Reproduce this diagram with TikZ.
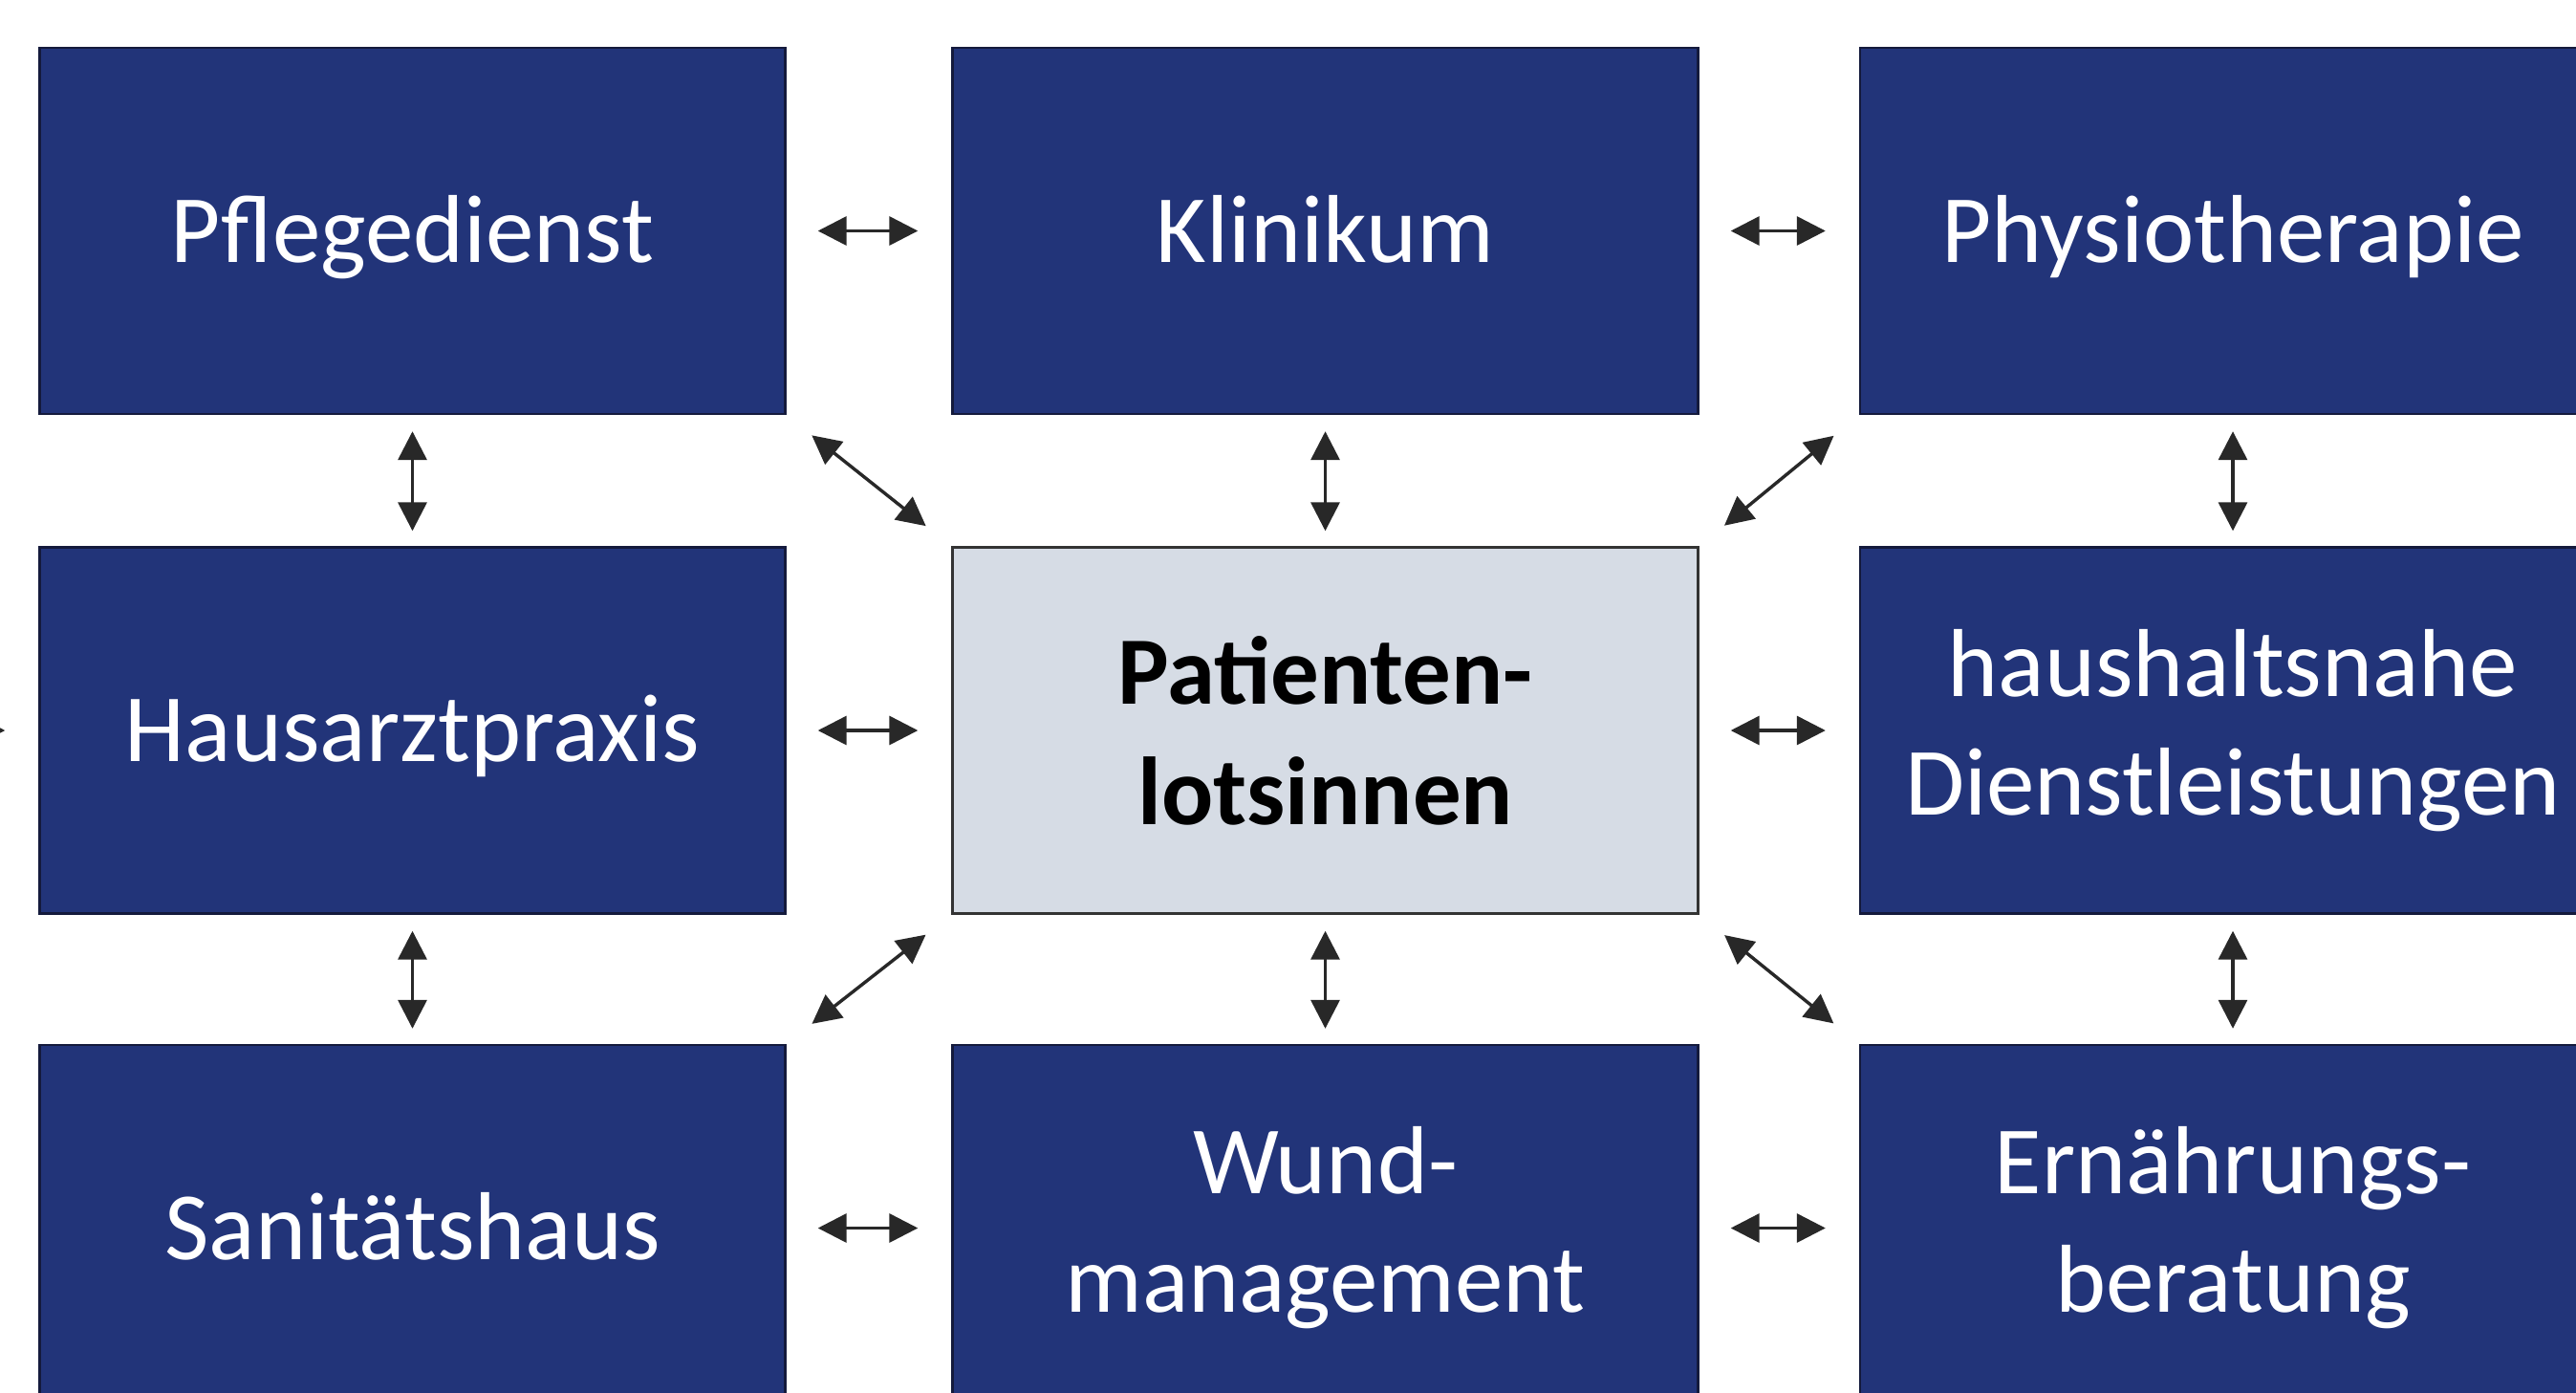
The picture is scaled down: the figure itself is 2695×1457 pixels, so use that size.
\documentclass[tikz,border=0pt]{standalone}
\usepackage{fontspec}
\setmainfont{Carlito}
\usetikzlibrary{arrows.meta}
\definecolor{boxblue}{RGB}{34,52,121}
\definecolor{boxedge}{RGB}{20,26,60}
\definecolor{centerfill}{RGB}{214,220,229}
\definecolor{arrowgray}{RGB}{40,40,40}
\tikzset{
  bluebox/.style={draw=boxedge, line width=1.2pt, fill=boxblue, text=white,
    minimum width=390pt, minimum height=191.5pt, inner sep=0pt, align=center,
    font=\fontsize{50.5pt}{62pt}\selectfont},
  oneline/.style={text height=40pt, text depth=7.4pt},
  centerbox/.style={draw=black!80, line width=1.2pt, fill=centerfill, text=black,
    minimum width=390pt, minimum height=191.5pt, inner sep=0pt, align=center,
    font=\fontsize{50.5pt}{63pt}\selectfont\bfseries},
  link/.style={draw=arrowgray, line width=1.7pt,
    {Triangle[length=15pt,width=15pt]}-{Triangle[length=15pt,width=15pt]},
    shorten <=16pt, shorten >=16pt},
  hlink/.style={link, shorten <=16.5pt, shorten >=17.5pt},
  vlink/.style={link, shorten <=8.5pt, shorten >=8pt},
  dlink/.style={link, shorten <=17pt, shorten >=17pt}
}
\begin{document}
\begin{tikzpicture}[x=0.5pt,y=-0.5pt]
\useasboundingbox (0,0) rectangle (2695,1457);
\clip (0,0) rectangle (2695,1457);
\fill[white] (0,0) rectangle (2695,1457);
% row 1
\node[bluebox,oneline] (pflege) at (431.5,241.5) {Pflegedienst};
\node[bluebox,oneline] (klinik) at (1386.5,241.5) {Klinikum};
\node[bluebox,oneline] (physio) at (2336,241.5) {Physiotherapie};
% row 2
\node[bluebox,oneline] (haus) at (431.5,764) {Hausarztpraxis};
\node[centerbox] (lotsin) at (1386.5,764) {Patienten-\\lotsinnen};
\node[bluebox] (dienst) at (2336,764) {haushaltsnahe\\Dienstleistungen};
% row 3
\node[bluebox,oneline] (sani) at (431.5,1284.5) {Sanitätshaus};
\node[bluebox] (wund) at (1386.5,1284.5) {Wund-\\management};
\node[bluebox] (ernae) at (2336,1284.5) {Ernährungs-\\beratung};
% stub on the left edge
\coordinate (leftstub) at (-134,764);
% horizontal
\draw[hlink] (pflege.east) -- (klinik.west);
\draw[hlink] (klinik.east) -- (physio.west);
\draw[hlink] (haus.east) -- (lotsin.west);
\draw[hlink] (lotsin.east) -- (dienst.west);
\draw[hlink] (sani.east) -- (wund.west);
\draw[hlink] (wund.east) -- (ernae.west);
\draw[hlink] (leftstub) -- (haus.west);
% vertical
\draw[vlink] (pflege.south) -- (haus.north);
\draw[vlink] (klinik.south) -- (lotsin.north);
\draw[vlink] (physio.south) -- (dienst.north);
\draw[vlink] (haus.south) -- (sani.north);
\draw[vlink] (lotsin.south) -- (wund.north);
\draw[vlink] (dienst.south) -- (ernae.north);
% diagonal
\draw[dlink] (pflege.south east) -- (lotsin.north west);
\draw[dlink] (physio.south west) -- (lotsin.north east);
\draw[dlink] (lotsin.south west) -- (sani.north east);
\draw[dlink] (lotsin.south east) -- (ernae.north west);
\end{tikzpicture}
\end{document}
